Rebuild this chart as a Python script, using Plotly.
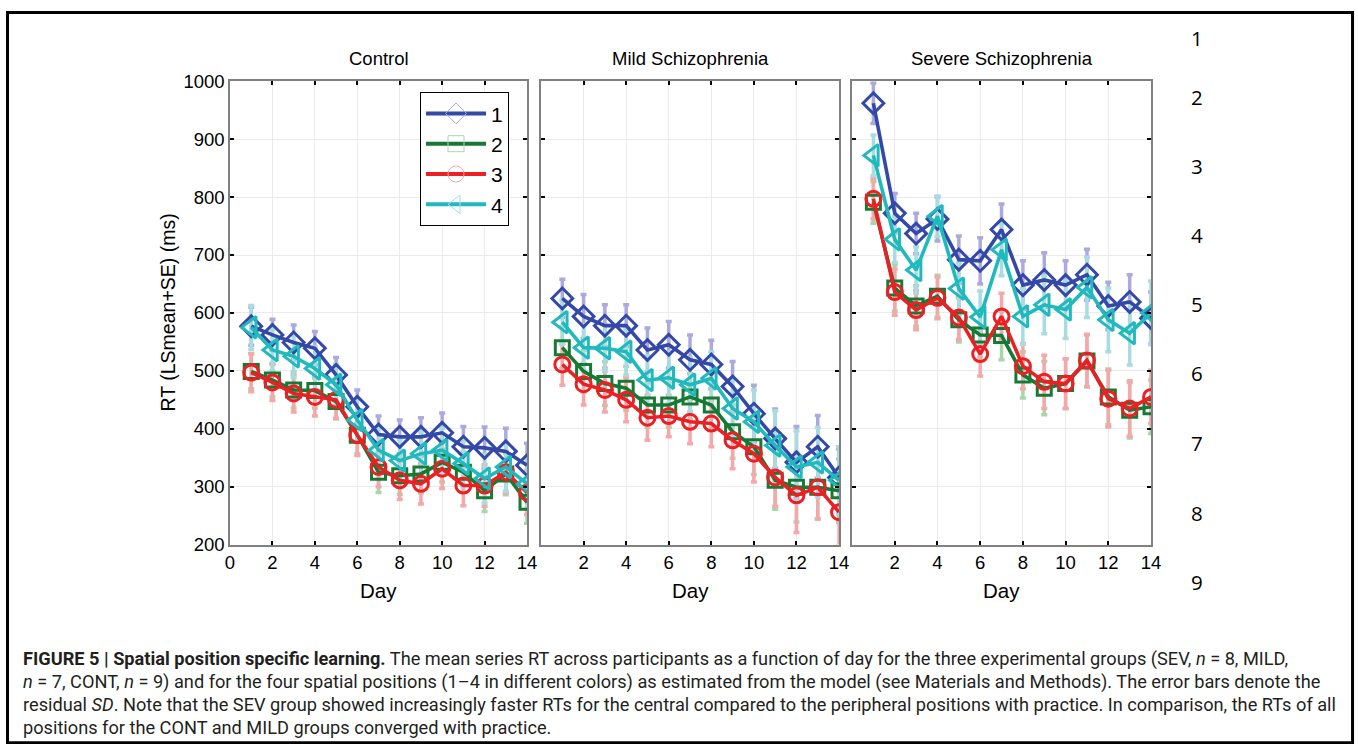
import plotly.graph_objects as go

W, H = 1368, 756
# measured mapping from figure pixels to photographed pixels (p = S*f + B);
# positions below are given in photographed (reference) pixels and mapped back.
SX, BX = 0.989, 5.0
SY, BY = 0.9715, 9.8


def fx(x):
    return ((x - BX) / SX) / W


def fy(y):
    return 1 - ((y - BY) / SY) / H


days = list(range(1, 15))
groups = ["Control", "Mild Schizophrenia", "Severe Schizophrenia"]
series_names = ["1", "2", "3", "4"]

# Control
ctrl_1 = [577, 562, 549, 539, 493, 438, 390, 386, 386, 393, 369, 367, 361, 337]
ctrl_2 = [499, 484, 467, 466, 447, 389, 325, 319, 322, 342, 325, 293, 322, 273]
ctrl_3 = [497, 480, 461, 455, 450, 389, 334, 311, 305, 331, 302, 302, 325, 290]
ctrl_4 = [575, 536, 525, 504, 476, 415, 363, 345, 357, 363, 340, 314, 334, 305]
# Mild
mild_1 = [625, 594, 578, 578, 536, 545, 519, 511, 473, 426, 383, 342, 369, 316]
mild_2 = [540, 499, 478, 470, 441, 441, 455, 441, 395, 369, 311, 299, 299, 293]
mild_3 = [511, 477, 467, 450, 419, 422, 412, 409, 380, 357, 316, 285, 299, 256]
mild_4 = [584, 540, 539, 533, 484, 488, 476, 487, 435, 412, 371, 334, 342, 311]
# Severe
sev_1 = [962, 772, 737, 762, 692, 690, 744, 648, 657, 648, 666, 612, 619, 591]
sev_2 = [791, 643, 612, 629, 588, 562, 561, 493, 470, 478, 517, 455, 432, 438]
sev_3 = [797, 636, 605, 626, 592, 529, 594, 508, 481, 478, 518, 452, 435, 455]
sev_4 = [872, 727, 674, 767, 642, 593, 709, 594, 614, 606, 644, 588, 565, 600]

# residual SD (error bars)
ctrl_e1 = [33, 27, 30, 29, 30, 29, 32, 29, 33, 34, 35, 36, 40, 38]
ctrl_e2 = [30, 29, 31, 30, 30, 32, 35, 32, 33, 34, 34, 36, 36, 36]
ctrl_e3 = [33, 31, 32, 33, 32, 35, 34, 33, 35, 34, 35, 36, 36, 38]
ctrl_e4 = [38, 36, 37, 37, 36, 37, 37, 37, 38, 38, 40, 42, 42, 44]
mild_e1 = [33, 38, 36, 36, 38, 40, 43, 42, 43, 49, 51, 62, 54, 49]
mild_e2 = [36, 36, 38, 38, 38, 38, 40, 40, 46, 48, 50, 60, 55, 55]
mild_e3 = [36, 36, 38, 38, 39, 36, 38, 40, 49, 49, 50, 64, 55, 58]
mild_e4 = [38, 40, 40, 40, 42, 44, 46, 46, 50, 55, 60, 62, 60, 58]
sev_e1 = [35, 34, 35, 38, 41, 40, 44, 42, 47, 42, 44, 41, 47, 45]
sev_e2 = [36, 40, 35, 36, 38, 38, 42, 40, 46, 43, 45, 48, 48, 46]
sev_e3 = [35, 40, 34, 36, 38, 38, 40, 39, 46, 43, 45, 49, 48, 46]
sev_e4 = [35, 40, 40, 35, 45, 45, 45, 48, 50, 50, 52, 55, 55, 55]

data = [
    [ctrl_1, ctrl_2, ctrl_3, ctrl_4],
    [mild_1, mild_2, mild_3, mild_4],
    [sev_1, sev_2, sev_3, sev_4],
]
errs = [
    [ctrl_e1, ctrl_e2, ctrl_e3, ctrl_e4],
    [mild_e1, mild_e2, mild_e3, mild_e4],
    [sev_e1, sev_e2, sev_e3, sev_e4],
]

line_colors = ["rgb(52,72,168)", "rgb(22,122,52)", "rgb(236,32,36)", "rgb(32,186,190)"]
err_colors = ["rgb(172,170,220)", "rgb(168,214,170)", "rgb(244,168,170)", "rgb(168,220,224)"]
symbols = ["diamond-open", "square-open", "circle-open", "triangle-left-open"]
msizes = [16, 14, 15, 19]

caption_lines = [
    "<b>FIGURE 5 | Spatial position specific learning.</b> The mean series RT across participants as a function of day for the three experimental groups (SEV, <i>n</i> = 8, MILD,",
    "<i>n</i> = 7, CONT, <i>n</i> = 9) and for the four spatial positions (1–4 in different colors) as estimated from the model (see Materials and Methods). The error bars denote the",
    "residual <i>SD</i>. Note that the SEV group showed increasingly faster RTs for the central compared to the peripheral positions with practice. In comparison, the RTs of all",
    "positions for the CONT and MILD groups converged with practice.",
]
line_numbers = ["1", "2", "3", "4", "5", "6", "7", "8", "9"]
x_ticks = [0, 2, 4, 6, 8, 10, 12, 14]
y_ticks = [200, 300, 400, 500, 600, 700, 800, 900, 1000]

# panel boxes in reference pixels
panels_px = [(230, 527), (541, 839), (852, 1151)]
top_px, bot_px = 80.0, 543.0

fig = go.Figure()

for g in range(3):
    xa = "x" if g == 0 else f"x{g+1}"
    ya = "y" if g == 0 else f"y{g+1}"
    for s in range(4):
        fig.add_trace(go.Scatter(
            x=days, y=data[g][s], mode="markers", xaxis=xa, yaxis=ya,
            marker=dict(size=1, color="rgba(0,0,0,0)"),
            error_y=dict(type="data", array=errs[g][s], color=err_colors[s],
                         thickness=3.5, width=3),
            showlegend=False, hoverinfo="skip"))
for g in range(3):
    xa = "x" if g == 0 else f"x{g+1}"
    ya = "y" if g == 0 else f"y{g+1}"
    for s in range(4):
        fig.add_trace(go.Scatter(
            x=days, y=data[g][s], mode="lines+markers", xaxis=xa, yaxis=ya,
            line=dict(color=line_colors[s], width=3.6),
            marker=dict(symbol=symbols[s], size=msizes[s], color=line_colors[s],
                        line=dict(width=3, color=line_colors[s])),
            showlegend=False, name=series_names[s]))

for s in range(4):
    fig.add_trace(go.Scatter(
        x=[None], y=[None], mode="lines+markers", name=series_names[s],
        line=dict(color=line_colors[s], width=4),
        marker=dict(symbol=symbols[s], size=16, color=err_colors[s],
                    line=dict(width=1, color=err_colors[s])),
        showlegend=True))

tick_font = dict(family="Liberation Sans, Arial", size=18.5, color="black")
axis_common = dict(
    showline=True, linecolor="#808080", linewidth=1.5, mirror="ticks",
    ticks="inside", ticklen=4, tickwidth=2, tickcolor="black",
    showgrid=True, gridcolor="#ebebeb", gridwidth=1, zeroline=False,
    tickfont=tick_font,
)

layout = dict(
    width=W, height=H, margin=dict(l=0, r=0, t=0, b=0),
    paper_bgcolor="white", plot_bgcolor="white",
    showlegend=True,
    legend=dict(x=fx(420), y=fy(91), xanchor="left", yanchor="top",
                bgcolor="white", bordercolor="black", borderwidth=1,
                font=dict(family="Liberation Sans, Arial", size=21, color="black"),
                tracegroupgap=0, itemwidth=60),
)
for g in range(3):
    x0, x1 = panels_px[g]
    xk = "xaxis" if g == 0 else f"xaxis{g+1}"
    yk = "yaxis" if g == 0 else f"yaxis{g+1}"
    ax_id = "y" if g == 0 else f"y{g+1}"
    xx_id = "x" if g == 0 else f"x{g+1}"
    layout[xk] = dict(axis_common, domain=[fx(x0), fx(x1)], range=[0, 14],
                      tickvals=x_ticks,
                      ticktext=[str(v) if (g == 0 or v != 0) else "" for v in x_ticks],
                      anchor=ax_id)
    layout[yk] = dict(axis_common, domain=[fy(bot_px), fy(top_px)],
                      range=[200, 1000], tickvals=y_ticks,
                      showticklabels=(g == 0), anchor=xx_id)
fig.update_layout(**layout)

annotations = []
annotations.append(dict(text="RT (LSmean+SE) (ms)", x=fx(168), y=fy(311), xref="paper", yref="paper",
                        showarrow=False, textangle=-90, xanchor="center", yanchor="middle",
                        font=dict(family="Liberation Sans, Arial", size=19.5, color="black")))
for g in range(3):
    x0, x1 = panels_px[g]
    cx = fx((x0 + x1) / 2)
    annotations.append(dict(text=groups[g], x=cx, y=fy(57), xref="paper", yref="paper",
                            showarrow=False, xanchor="center", yanchor="middle",
                            font=dict(family="Liberation Sans, Arial", size=18.5, color="black")))
    annotations.append(dict(text="Day", x=cx, y=fy(589), xref="paper", yref="paper",
                            showarrow=False, xanchor="center", yanchor="middle",
                            font=dict(family="Liberation Sans, Arial", size=20.5, color="black")))
ln_y = [37, 96, 165, 234, 303, 372, 441, 511, 580]
for t, yy in zip(line_numbers, ln_y):
    annotations.append(dict(text=t, x=fx(1197), y=fy(yy), xref="paper", yref="paper",
                            showarrow=False, xanchor="center", yanchor="middle",
                            font=dict(family="Open Sans", size=20.5, color="black")))
cap_y = [657, 680, 703, 726]
for t, yy in zip(caption_lines, cap_y):
    annotations.append(dict(text=t, x=fx(21), y=fy(yy), xref="paper", yref="paper",
                            showarrow=False, xanchor="left", yanchor="middle", align="left",
                            font=dict(family="Roboto", size=18.2, color="#231f20")))
fig.update_layout(annotations=annotations)

# outer frame (reference pixels 7.5..1352.5 x 8.5..741)
bx0 = (7.5 - BX) / SX
bx1 = (1352.5 - BX) / SX
by0 = max(1.5, (8.5 - BY) / SY)
by1 = min(H - 1.5, (741 - BY) / SY)
fig.add_shape(type="rect", xref="paper", yref="paper",
              x0=bx0 / W, x1=bx1 / W, y0=1 - by1 / H, y1=1 - by0 / H,
              line=dict(color="black", width=3), fillcolor="rgba(0,0,0,0)", layer="above")

fig.write_html("out.html")
